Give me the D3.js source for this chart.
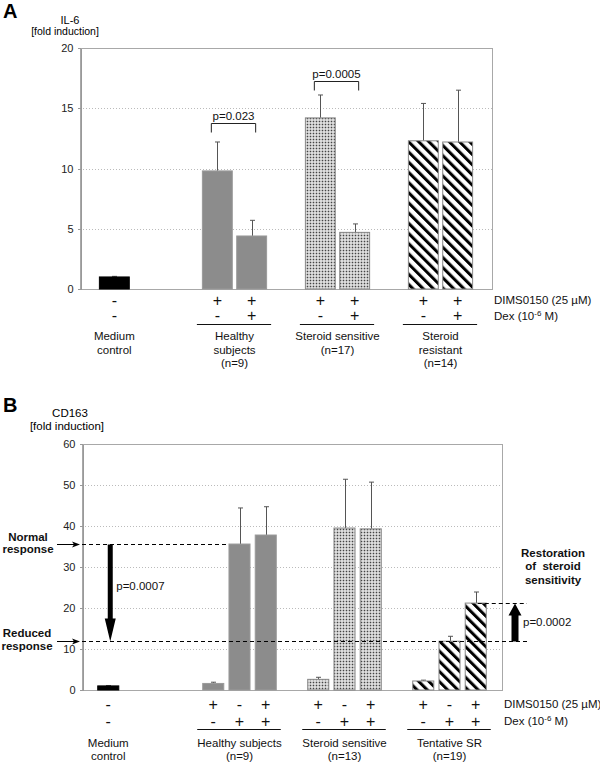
<!DOCTYPE html>
<meta charset="utf-8">
<style>
body { margin: 0; background: #fff; }
svg { font-family: "Liberation Sans", Arial, sans-serif; }
.axis path, .axis line { stroke: #999; shape-rendering: crispEdges; }
.axis text { font-size: 11px; fill: #222; }
.grid { stroke: #bbb; stroke-dasharray: 1,2; shape-rendering: crispEdges; }
.lbl { font-size: 11.5px; fill: #111; }
.sign { font-size: 16px; fill: #111; }
.bold { font-size: 11.5px; font-weight: bold; fill: #111; }
</style>
<body>
<svg id="fig" width="600" height="763"></svg>
<script src="https://d3js.org/d3.v7.min.js"></script>
<script>

// ---- panel A : IL-6 ----
var aGroupLines = [["Medium", "control"], ["Healthy", "subjects", "(n=9)"], ["Steroid sensitive", "(n=17)"], ["Steroid", "resistant", "(n=14)"]];
var aBarGroup = [0, 1, 1, 2, 2, 3, 3];
var aDims = ["-", "+", "+", "+", "+", "+", "+"];
var aDex  = ["-", "-", "+", "-", "+", "-", "+"];
var aMean = [1.0, 9.8, 4.4, 14.2, 4.7, 12.3, 12.2];
var aErr  = [0.05, 2.4, 1.3, 1.9, 0.7, 3.1, 4.3];
var aTicks = [0, 5, 10, 15, 20];
var aPvalGroup = [1, 2];
var aPvalY = [13.8, 17.3];
var aPvalText = ["p=0.023", "p=0.0005"];

// ---- panel B : CD163 ----
var bGroupLines = [["Medium", "control"], ["Healthy subjects", "(n=9)"], ["Steroid sensitive", "(n=13)"], ["Tentative SR", "(n=19)"]];
var bBarGroup = [0, 1, 1, 1, 2, 2, 2, 3, 3, 3];
var bDims = ["-", "+", "-", "+", "+", "-", "+", "+", "-", "+"];
var bDex  = ["-", "-", "+", "+", "-", "+", "+", "-", "+", "+"];
var bMean = [1.0, 1.6, 35.6, 37.8, 2.6, 39.5, 39.3, 2.2, 11.9, 21.2];
var bErr  = [0.1, 0.3, 8.8, 6.9, 0.5, 11.9, 11.4, 0.2, 1.2, 2.7];
var bTicks = [0, 10, 20, 30, 40, 50, 60];

var svg = d3.select("#fig");
var defs = svg.append("defs");

// dotted fill
var dots = defs.append("pattern").attr("id", "dots")
    .attr("patternUnits", "userSpaceOnUse").attr("width", 3).attr("height", 3);
dots.append("rect").attr("width", 3).attr("height", 3).attr("fill", "#ebebeb");
dots.append("rect").attr("x", 0.7).attr("y", 0.7).attr("width", 1.6).attr("height", 1.6).attr("fill", "#444");

// diagonal stripes
var stripes = defs.append("pattern").attr("id", "stripes")
    .attr("patternUnits", "userSpaceOnUse").attr("width", 7.2).attr("height", 7.2)
    .attr("patternTransform", "rotate(-45)");
stripes.append("rect").attr("width", 7.2).attr("height", 7.2).attr("fill", "#fff");
stripes.append("rect").attr("width", 3).attr("height", 7.2).attr("fill", "#000");

var groupFill = ["#000", "#8c8c8c", "url(#dots)", "url(#stripes)"];
var groupStroke = ["#000", "#9a9a9a", "#888", "#888"];

function slotsOf(barGroup, controlGap) {
  var out = [], s = 0;
  barGroup.forEach(function(g, i) {
    if (i > 0) s += (g !== barGroup[i - 1]) ? ((barGroup[i - 1] === 0 ? controlGap : 1) + 1) : 1;
    out.push(s);
  });
  return out;
}

function panel(c) {
  var slots = slotsOf(c.barGroup, c.controlGap);
  var x = d3.scaleBand().domain(d3.range(d3.max(slots) + 1))
      .range([c.x0, c.x1]).paddingInner(c.pi).paddingOuter(c.po);
  var y = d3.scaleLinear().domain([0, d3.max(c.ticks)]).range([c.yb, c.yt]);
  var bw = x.bandwidth();
  var g = svg.append("g");

  // grid
  g.selectAll(".grid").data(c.ticks.slice(1, -1)).enter().append("line")
      .attr("class", "grid")
      .attr("x1", c.x0).attr("x2", c.x1)
      .attr("y1", function(d) { return Math.round(y(d)) + 0.5; })
      .attr("y2", function(d) { return Math.round(y(d)) + 0.5; });

  g.append("rect").attr("x", c.x0 + 0.5).attr("y", c.yt + 0.5)
      .attr("width", c.x1 - c.x0).attr("height", c.yb - c.yt)
      .attr("fill", "none").attr("stroke", "#a8a8a8");

  g.append("g").attr("class", "axis")
      .attr("transform", "translate(" + (c.x0 + 0.5) + ",0)")
      .call(d3.axisLeft(y).tickValues(c.ticks).tickSize(3).tickPadding(4).tickSizeOuter(0));

  // bars
  var data = c.mean.map(function(m, i) {
    return {m: m, e: c.err[i], g: c.barGroup[i], s: slots[i], dims: c.dims[i], dex: c.dex[i]};
  });
  g.selectAll(".err").data(data).enter().append("path")
      .attr("stroke", "#555").attr("fill", "none")
      .attr("d", function(d) {
        var cx = Math.round(x(d.s) + bw / 2) + 0.5, top = y(d.m + d.e);
        return "M" + cx + "," + y(d.m) + "V" + top + "M" + (cx - 2.5) + "," + top + "H" + (cx + 2.5);
      });
  g.selectAll(".bar").data(data).enter().append("rect")
      .attr("x", function(d) { return x(d.s) + 0.5; })
      .attr("width", bw - 1)
      .attr("y", function(d) { return y(d.m); })
      .attr("height", function(d) { return y(0) - y(d.m); })
      .attr("fill", function(d) { return groupFill[d.g]; })
      .attr("stroke", function(d) { return groupStroke[d.g]; });

  // +/- rows
  g.selectAll(".r1").data(data).enter().append("text").attr("class", "sign")
      .attr("text-anchor", "middle")
      .attr("x", function(d) { return x(d.s) + bw / 2; })
      .attr("y", c.row1).text(function(d) { return d.dims; });
  g.selectAll(".r2").data(data).enter().append("text").attr("class", "sign")
      .attr("text-anchor", "middle")
      .attr("x", function(d) { return x(d.s) + bw / 2; })
      .attr("y", c.row2).text(function(d) { return d.dex; });

  g.append("text").attr("class", "lbl").attr("x", c.x1 + 2).attr("y", c.row1 - 1.5).text("DIMS0150 (25 µM)");
  var dx = g.append("text").attr("class", "lbl").attr("x", c.x1 + 2).attr("y", c.row2 - 1.5);
  dx.append("tspan").text("Dex (10");
  dx.append("tspan").attr("dy", -4).style("font-size", "8px").text("-6");
  dx.append("tspan").attr("dy", 4).text(" M)");

  // group underlines + names
  c.groupLines.forEach(function(lines, gi) {
    var idx = data.filter(function(d) { return d.g === gi; });
    var a = x(idx[0].s), b = x(idx[idx.length - 1].s) + bw, mid = (a + b) / 2;
    if (gi > 0) {
      g.append("line").attr("x1", a - 5).attr("x2", b + 4)
          .attr("y1", c.lineY + 0.5).attr("y2", c.lineY + 0.5).attr("stroke", "#111");
    }
    lines.forEach(function(t, k) {
      g.append("text").attr("class", "lbl").attr("text-anchor", "middle")
          .attr("x", mid).attr("y", c.lab0 + k * c.labStep).text(t);
    });
  });

  return {x: x, y: y, bw: bw, slots: slots, g: g};
}

// ---------- A ----------
svg.append("text").attr("x", 3).attr("y", 18).style("font-size", "20px").style("font-weight", "bold").text("A");
svg.append("text").attr("x", 70).attr("y", 24).attr("text-anchor", "middle").style("font-size", "11px").text("IL-6");
svg.append("text").attr("x", 65).attr("y", 35).attr("text-anchor", "middle").style("font-size", "10.5px").text("[fold induction]");

var pa = panel({
  barGroup: aBarGroup, mean: aMean, err: aErr, dims: aDims, dex: aDex, ticks: aTicks, groupLines: aGroupLines,
  controlGap: 2, x0: 80, x1: 492, yt: 48, yb: 289, pi: 0.1, po: 0.55,
  row1: 305.5, row2: 321, lineY: 324, lab0: 340, labStep: 13.5
});

aPvalGroup.forEach(function(gi, k) {
  var bars = aBarGroup.map(function(g, i) { return g === gi ? i : -1; }).filter(function(i) { return i >= 0; });
  var xa = pa.x(pa.slots[bars[0]]) + pa.bw / 2 - 6, xb = pa.x(pa.slots[bars[bars.length - 1]]) + pa.bw / 2 + 4;
  var yy = Math.round(pa.y(aPvalY[k])) + 0.5;
  pa.g.append("path").attr("fill", "none").attr("stroke", "#222")
      .attr("d", "M" + xa + "," + (yy + 9) + "V" + yy + "H" + xb + "V" + (yy + 9));
  pa.g.append("text").attr("class", "lbl").attr("text-anchor", "middle")
      .attr("x", (xa + xb) / 2).attr("y", yy - 4).text(aPvalText[k]);
});

// ---------- B ----------
svg.append("text").attr("x", 3).attr("y", 412).style("font-size", "20px").style("font-weight", "bold").text("B");
svg.append("text").attr("x", 70).attr("y", 417).attr("text-anchor", "middle").style("font-size", "11.5px").text("CD163");
svg.append("text").attr("x", 67).attr("y", 430).attr("text-anchor", "middle").style("font-size", "11.5px").text("[fold induction]");

var pb = panel({
  barGroup: bBarGroup, mean: bMean, err: bErr, dims: bDims, dex: bDex, ticks: bTicks, groupLines: bGroupLines,
  controlGap: 3, x0: 82, x1: 502, yt: 444, yb: 690, pi: 0.16, po: 0.58,
  row1: 709.5, row2: 726.5, lineY: 729, lab0: 747, labStep: 13
});

var yNormal = Math.round(pb.y(bMean[2])) + 0.5,
    yReduced = Math.round(pb.y(bMean[8])) + 0.5,
    yRestored = Math.round(pb.y(bMean[9])) + 0.5;
var dash = "4,3";
pb.g.append("line").attr("x1", 82).attr("x2", pb.x(pb.slots[2])).attr("y1", yNormal).attr("y2", yNormal)
    .attr("stroke", "#000").attr("stroke-dasharray", dash);
pb.g.append("line").attr("x1", 82).attr("x2", 527).attr("y1", yReduced).attr("y2", yReduced)
    .attr("stroke", "#000").attr("stroke-dasharray", dash);
pb.g.append("line").attr("x1", pb.x(pb.slots[9]) + pb.bw / 2 + 2).attr("x2", 527).attr("y1", yRestored).attr("y2", yRestored)
    .attr("stroke", "#000").attr("stroke-dasharray", dash);

// side pointers
[yNormal, yReduced].forEach(function(yy) {
  pb.g.append("line").attr("x1", 57).attr("x2", 76).attr("y1", yy).attr("y2", yy).attr("stroke", "#000");
  pb.g.append("path").attr("fill", "#000")
      .attr("d", "M80," + yy + "L72," + (yy - 3) + "L74," + yy + "L72," + (yy + 3) + "Z");
});

// big down arrow
var ax = pb.x(pb.slots[0]) + pb.bw / 2 + 2;
pb.g.append("path").attr("fill", "#000")
    .attr("d", "M" + (ax - 2.5) + "," + yNormal + "H" + (ax + 2.5) + "V" + (yReduced - 23) +
      "H" + (ax + 5.5) + "L" + ax + "," + yReduced + "L" + (ax - 5.5) + "," + (yReduced - 23) + "H" + (ax - 2.5) + "Z");
pb.g.append("text").attr("class", "lbl").attr("x", ax + 6).attr("y", 590).text("p=0.0007");

// big up arrow
var ux = 515;
pb.g.append("path").attr("fill", "#000")
    .attr("d", "M" + (ux - 3.5) + "," + yReduced + "H" + (ux + 3.5) + "V" + (yRestored + 12) +
      "H" + (ux + 6.5) + "L" + ux + "," + yRestored + "L" + (ux - 6.5) + "," + (yRestored + 12) + "H" + (ux - 3.5) + "Z");
pb.g.append("text").attr("class", "lbl").attr("x", 523).attr("y", 626).text("p=0.0002");

// bold annotations
[["Normal", 540.5], ["response", 553]].forEach(function(t) {
  svg.append("text").attr("class", "bold").attr("text-anchor", "middle").attr("x", 28).attr("y", t[1]).text(t[0]);
});
[["Reduced", 637], ["response", 650]].forEach(function(t) {
  svg.append("text").attr("class", "bold").attr("text-anchor", "middle").attr("x", 27).attr("y", t[1]).text(t[0]);
});
[["Restoration", 556.5], ["of  steroid", 570], ["sensitivity", 583.5]].forEach(function(t) {
  svg.append("text").attr("class", "bold").attr("text-anchor", "middle").attr("x", 553).attr("y", t[1])
      .style("white-space", "pre").text(t[0]);
});

</script>
